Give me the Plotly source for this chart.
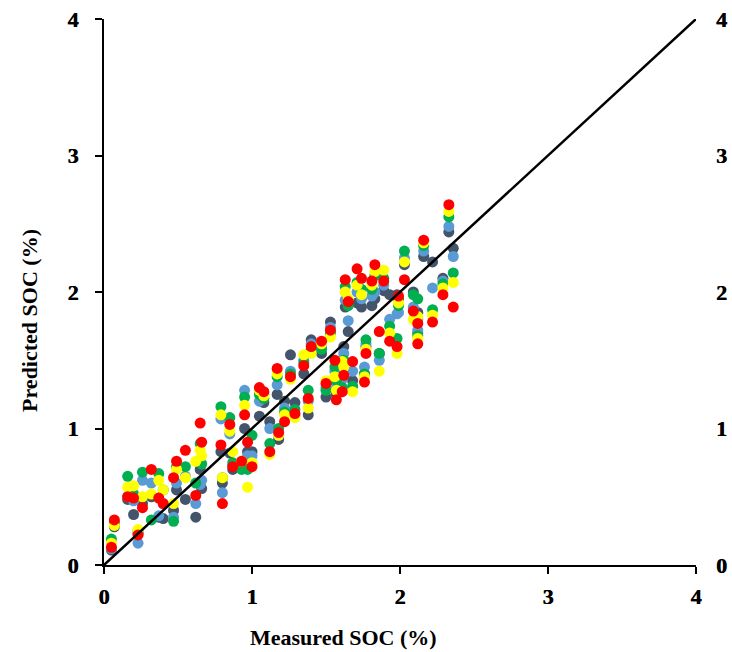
import plotly.graph_objects as go

measured = [0.05, 0.07, 0.16, 0.20, 0.23, 0.26, 0.32, 0.37, 0.40, 0.47,
            0.49, 0.55, 0.62, 0.65, 0.66, 0.79, 0.80, 0.85, 0.87, 0.93,
            0.95, 0.97, 1.00, 1.05, 1.08, 1.12, 1.17, 1.18, 1.22, 1.26,
            1.29, 1.35, 1.38, 1.40, 1.47, 1.50, 1.53, 1.56, 1.57, 1.61,
            1.62, 1.63, 1.65, 1.68, 1.71, 1.74, 1.76, 1.77, 1.81, 1.83,
            1.86, 1.89, 1.93, 1.98, 1.99, 2.03, 2.09, 2.12, 2.12, 2.16,
            2.22, 2.29, 2.33, 2.36]

pred_dark = [0.11, 0.28, 0.48, 0.37, 0.23, 0.45, 0.50, 0.35, 0.34, 0.40,
             0.55, 0.48, 0.35, 0.70, 0.56, 0.83, 0.60, 0.82, 0.70, 0.72,
             1.00, 0.83, 0.83, 1.09, 1.19, 1.05, 1.25, 0.92, 1.20, 1.54,
             1.19, 1.40, 1.10, 1.65, 1.55, 1.23, 1.78, 1.35, 1.25, 1.40,
             1.60, 1.89, 1.71, 1.35, 1.92, 1.89, 1.40, 1.60, 1.90, 1.95,
             1.55, 2.01, 1.98, 1.98, 1.95, 2.20, 2.00, 1.85, 1.70, 2.26,
             2.22, 2.10, 2.44, 2.32]
pred_lblue = [0.12, 0.30, 0.50, 0.47, 0.16, 0.62, 0.60, 0.36, 0.45, 0.35,
              0.60, 0.65, 0.45, 0.59, 0.62, 1.07, 0.53, 0.96, 0.73, 0.75,
              1.28, 0.80, 0.80, 1.20, 1.25, 1.00, 1.32, 0.95, 1.15, 1.42,
              1.10, 1.50, 1.20, 1.62, 1.60, 1.30, 1.74, 1.42, 1.30, 1.36,
              1.55, 1.94, 1.79, 1.42, 2.00, 1.95, 1.45, 1.62, 1.97, 2.00,
              1.50, 2.05, 1.80, 1.84, 1.85, 2.25, 1.89, 1.80, 1.72, 2.30,
              2.03, 2.08, 2.48, 2.26]
pred_green = [0.19, 0.31, 0.65, 0.52, 0.25, 0.68, 0.33, 0.67, 0.55, 0.32,
              0.72, 0.72, 0.60, 0.89, 0.74, 1.16, 0.64, 1.08, 0.75, 0.70,
              1.23, 0.70, 0.95, 1.25, 1.22, 0.89, 1.38, 1.00, 1.12, 1.40,
              1.14, 1.48, 1.28, 1.58, 1.58, 1.28, 1.70, 1.45, 1.35, 1.30,
              1.50, 2.04, 1.90, 1.31, 2.07, 2.02, 1.40, 1.65, 2.02, 2.12,
              1.55, 2.10, 1.75, 1.66, 1.90, 2.30, 1.98, 1.95, 1.68, 2.34,
              1.87, 2.06, 2.55, 2.14]
pred_yellow = [0.16, 0.29, 0.57, 0.58, 0.26, 0.50, 0.52, 0.62, 0.55, 0.45,
               0.70, 0.64, 0.76, 0.84, 0.80, 1.10, 0.64, 0.98, 0.83, 0.76,
               1.17, 0.57, 0.75, 1.28, 1.24, 0.81, 1.40, 0.95, 1.10, 1.36,
               1.08, 1.54, 1.15, 1.55, 1.62, 1.35, 1.67, 1.38, 1.28, 1.49,
               1.45, 2.00, 1.95, 1.27, 2.05, 1.98, 1.38, 1.58, 2.05, 2.15,
               1.42, 2.16, 1.70, 1.55, 1.92, 2.22, 1.80, 1.82, 1.66, 2.36,
               1.83, 2.03, 2.59, 2.07]
pred_red = [0.13, 0.33, 0.50, 0.49, 0.22, 0.42, 0.70, 0.49, 0.45, 0.64,
            0.76, 0.84, 0.51, 1.04, 0.90, 0.88, 0.45, 1.03, 0.72, 0.76,
            1.10, 0.90, 0.72, 1.30, 1.27, 0.83, 1.44, 0.97, 1.05, 1.38,
            1.11, 1.46, 1.22, 1.60, 1.64, 1.33, 1.72, 1.50, 1.21, 1.27,
            1.39, 2.09, 1.93, 1.49, 2.17, 2.10, 1.34, 1.55, 2.08, 2.20,
            1.71, 2.08, 1.64, 1.60, 1.97, 2.09, 1.86, 1.77, 1.62, 2.38,
            1.78, 1.98, 2.64, 1.89]

series = [
    ("Model 1", pred_dark, "#44546A"),
    ("Model 2", pred_lblue, "#5B9BD5"),
    ("Model 3", pred_green, "#00B050"),
    ("Model 4", pred_yellow, "#FFFF00"),
    ("Model 5", pred_red, "#FF0000"),
]

one_to_one = [0, 4]
ticks = [0, 1, 2, 3, 4]
tick_text = ["0", "1", "2", "3", "4"]

FONT = "Liberation Serif"

fig = go.Figure()
for name, ys, col in series:
    fig.add_trace(go.Scatter(x=measured, y=ys, mode="markers", name=name,
                             marker=dict(color=col, size=11, line=dict(width=0)),
                             cliponaxis=False))
fig.add_trace(go.Scatter(x=one_to_one, y=one_to_one, mode="lines",
                         line=dict(color="black", width=2.5), name="1:1"))
# invisible trace to activate right axis
fig.add_trace(go.Scatter(x=one_to_one, y=one_to_one, mode="lines", yaxis="y2",
                         line=dict(width=0), hoverinfo="skip", showlegend=False,
                         opacity=0))

tf = dict(family=FONT, size=22, color="black", weight=700,
          shadow="0.4px 0 0 black")

fig.update_layout(
    width=732, height=652,
    margin=dict(l=104, r=36, t=19, b=87),
    paper_bgcolor="white", plot_bgcolor="white",
    showlegend=False,
    font=dict(family=FONT, size=22, color="black"),
    xaxis=dict(range=[0, 4], tickvals=ticks, ticktext=tick_text,
               showgrid=False, zeroline=False, showline=True,
               linecolor="black", linewidth=2, ticks="outside",
               ticklen=7, tickwidth=2, tickcolor="black",
               ticklabelstandoff=4, automargin=False,
               tickfont=tf),
    yaxis=dict(range=[0, 4], tickvals=ticks, ticktext=tick_text,
               showgrid=False, zeroline=False, showline=True,
               linecolor="black", linewidth=2, ticks="outside",
               ticklen=7, tickwidth=2, tickcolor="black",
               ticklabelstandoff=12, automargin=False,
               tickfont=tf),
    yaxis2=dict(range=[0, 4], tickvals=ticks, ticktext=tick_text,
                overlaying="y", side="right", showgrid=False, zeroline=False,
                showline=False, ticks="", ticklabelstandoff=19,
                automargin=False, tickfont=tf),
    annotations=[
        dict(text="<b>Measured SOC (%)</b>", xref="paper", yref="paper",
             x=0.404, y=-0.132, xanchor="center", yanchor="middle",
             showarrow=False, font=dict(family=FONT, size=22, color="black")),
        dict(text="<b>Predicted SOC (%)</b>", xref="paper", yref="paper",
             x=-0.125, y=0.447, xanchor="center", yanchor="middle",
             textangle=-90, showarrow=False,
             font=dict(family=FONT, size=22, color="black")),
    ],
)

fig.write_html("out.html")
